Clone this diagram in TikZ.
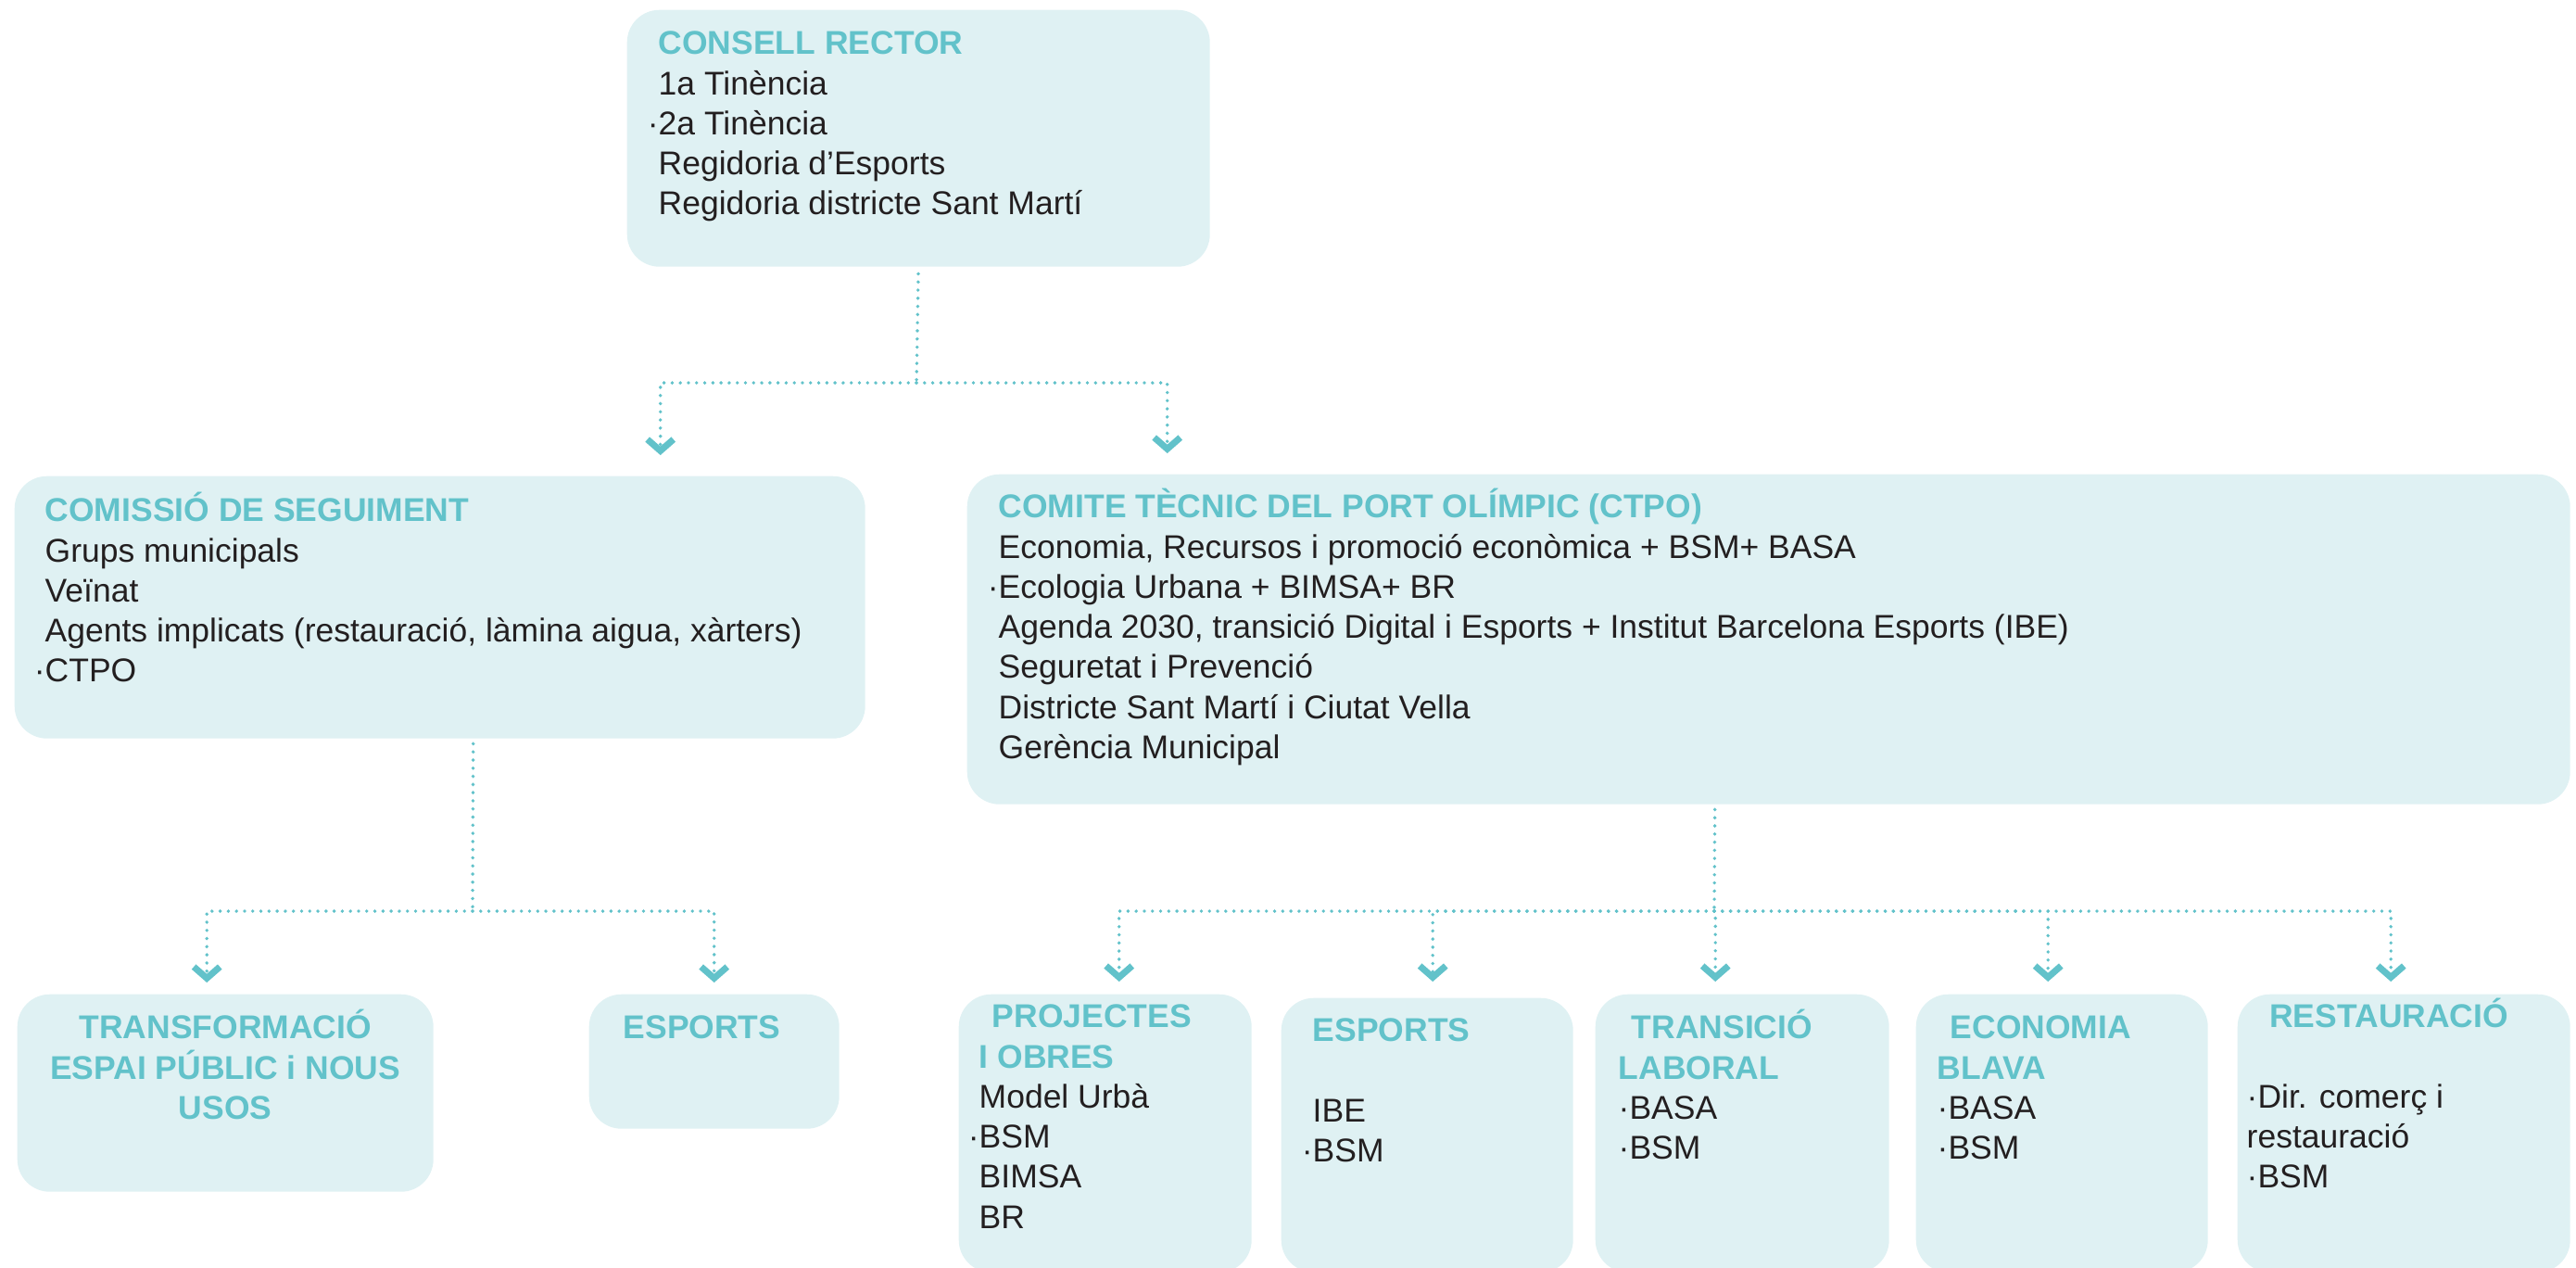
\documentclass[tikz,border=0pt]{standalone}
\usepackage{fontspec}
\setmainfont{Liberation Sans}
\usetikzlibrary{arrows.meta,positioning}
\definecolor{panelfill}{HTML}{DFF1F3}
\definecolor{headteal}{HTML}{62C2CA}
\definecolor{ink}{HTML}{231F20}
% headings in teal, with a strut so every first line starts at the same height
\newcommand{\hd}[1]{\rule{0pt}{10pt}{\color{headteal}\bfseries #1}}
\tikzset{
  panel/.style={fill=panelfill, rounded corners=0.35cm, inner sep=0pt, anchor=north west},
  txt/.style={font=\fontsize{10.1}{12.3}\selectfont, text=ink, align=left, inner sep=0pt},
  dotline/.style={draw=headteal, line width=1.1pt, line cap=round, dash pattern=on 0pt off 2.5pt},
  link/.style={dotline, -{Straight Barb[length=3.5pt,width=8pt,line width=2pt,sharp]}},
}

\begin{document}
\begin{tikzpicture}
  \useasboundingbox (0,0) rectangle (27.8,-13.67);
  \clip (0,0) rectangle (27.8,-13.67);

  % top level
  \node[panel, minimum width=6.29cm, minimum height=2.77cm] (rector) at (6.76,-0.10) {};
  \node[txt, below right=0.13cm and 0.34cm of rector.north west] (rectortxt)
    {\hd{CONSELL RECTOR}\\
     1a Tinència\\
     \llap{·}2a Tinència\\
     Regidoria d’Esports\\
     Regidoria districte Sant Martí};

  % second level
  \node[panel, minimum width=9.18cm, minimum height=2.83cm] (comissio) at (0.15,-5.13) {};
  \node[txt, below right=0.14cm and 0.33cm of comissio.north west] (comissiotxt)
    {\hd{COMISSIÓ DE SEGUIMENT}\\
     Grups municipals\\
     Veïnat\\
     Agents implicats (restauració, làmina aigua, xàrters)\\
     \llap{·}CTPO};

  \node[panel, minimum width=17.30cm, minimum height=3.56cm] (ctpo) at (10.43,-5.11) {};
  \node[txt, below right=0.12cm and 0.34cm of ctpo.north west] (ctpotxt)
    {\hd{COMITE TÈCNIC DEL PORT OLÍMPIC (CTPO)}\\
     Economia, Recursos i promoció econòmica + BSM+ BASA\\
     \llap{·}Ecologia Urbana + BIMSA+ BR\\
     Agenda 2030, transició Digital i Esports + Institut Barcelona Esports (IBE)\\
     Seguretat i Prevenció\\
     Districte Sant Martí i Ciutat Vella\\
     Gerència Municipal};

  % groups under the comissio
  \node[panel, minimum width=4.49cm, minimum height=2.13cm] (espai) at (0.18,-10.72) {};
  \node[txt, align=center, below=0.13cm of espai.north] (espaitxt)
    {\hd{TRANSFORMACIÓ}\\ \hd{ESPAI PÚBLIC i NOUS}\\ \hd{USOS}};

  \node[panel, minimum width=2.70cm, minimum height=1.45cm] (esportsa) at (6.35,-10.72) {};
  \node[txt, below right=0.13cm and 0.37cm of esportsa.north west] (esportsatxt)
    {\hd{ESPORTS}};

  % groups under the CTPO (they run past the lower edge)
  \node[panel, minimum width=3.16cm, minimum height=3.00cm] (obres) at (10.34,-10.72) {};
  \node[txt, below right=0.01cm and 0.22cm of obres.north west] (obrestxt)
    {\hd{\hspace{4pt}PROJECTES}\\
     \hd{I OBRES}\\
     Model Urbà\\
     \llap{·}BSM\\
     BIMSA\\
     BR};

  \node[panel, minimum width=3.15cm, minimum height=2.96cm] (esportsb) at (13.82,-10.76) {};
  \node[txt, below right=0.12cm and 0.34cm of esportsb.north west] (esportsbtxt)
    {\hd{ESPORTS}\\[12.3pt]
     IBE\\
     \llap{·}BSM};

  \node[panel, minimum width=3.17cm, minimum height=3.00cm] (laboral) at (17.21,-10.72) {};
  \node[txt, below right=0.13cm and 0.25cm of laboral.north west] (laboraltxt)
    {\hd{\hspace{4pt}TRANSICIÓ}\\
     \hd{LABORAL}\\
     ·BASA\\
     ·BSM};

  \node[panel, minimum width=3.15cm, minimum height=3.00cm] (blava) at (20.67,-10.72) {};
  \node[txt, below right=0.13cm and 0.23cm of blava.north west] (blavatxt)
    {\hd{\hspace{4pt}ECONOMIA}\\
     \hd{BLAVA}\\
     ·BASA\\
     ·BSM};

  \node[panel, minimum width=3.59cm, minimum height=3.00cm] (restau) at (24.14,-10.72) {};
  \node[txt, below right=0.01cm and 0.10cm of restau.north west] (restautxt)
    {\hd{\hspace{7pt}RESTAURACIÓ}\\[12.3pt]
     ·Dir. comerç i\\
     restauració\\
     ·BSM};

  % connectors
  \coordinate (hubtop) at (9.89,-4.13);
  \draw[dotline, shorten <=0.07cm] (rector.south) -- (hubtop);
  \draw[link, shorten >=0.22cm] (hubtop) -| ([xshift=2.38cm]comissio.north);
  \draw[link, shorten >=0.22cm] (hubtop) -| ([xshift=-6.49cm]ctpo.north);

  \coordinate (hubleft) at (5.10,-9.83);
  \draw[dotline, shorten <=0.05cm] ([xshift=0.36cm]comissio.south) -- (hubleft);
  \draw[link, shorten >=0.12cm] (hubleft) -| ([xshift=-0.20cm]espai.north);
  \draw[link, shorten >=0.12cm] (hubleft) -| (esportsa.north);

  \coordinate (hubright) at (18.50,-9.83);
  \draw[dotline, shorten <=0.05cm] ([xshift=-0.58cm]ctpo.south) -- (hubright);
  \draw[link, shorten >=0.13cm] (hubright) -| ([xshift=0.15cm]obres.north);
  \draw[link, shorten >=0.17cm] (hubright) -| ([xshift=0.06cm]esportsb.north);
  \draw[link, shorten >=0.13cm] (hubright) -| ([xshift=-0.29cm]laboral.north);
  \draw[link, shorten >=0.13cm] (hubright) -| ([xshift=-0.15cm]blava.north);
  \draw[link, shorten >=0.13cm] (hubright) -| ([xshift=-0.14cm]restau.north);
\end{tikzpicture}
\end{document}
